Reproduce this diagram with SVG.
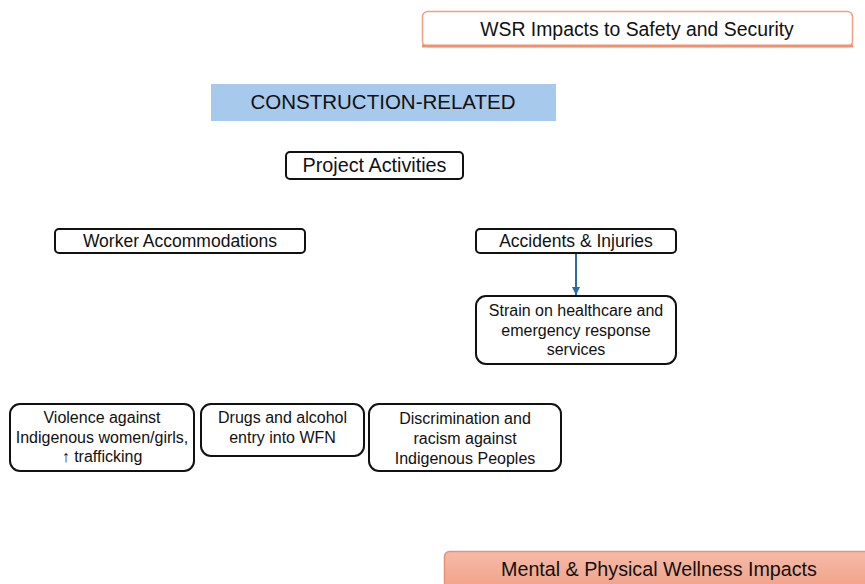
<svg xmlns="http://www.w3.org/2000/svg" width="865" height="584" viewBox="0 0 865 584">
<defs>
<style>
text{font-family:"Liberation Sans",Arial,sans-serif;fill:#111;text-anchor:middle}
.box{fill:#fff;stroke:#111;stroke-width:2}
.t16{font-size:17.5px}
.t15{font-size:16px}
</style>
<linearGradient id="og" x1="0" y1="0" x2="0" y2="1"><stop offset="0" stop-color="#f5bba8"/><stop offset="1" stop-color="#f19f85"/></linearGradient>
<marker id="ah" markerWidth="8" markerHeight="8" refX="8" refY="4" orient="auto" markerUnits="userSpaceOnUse"><path d="M0,0 L8,4 L0,8 Z" fill="#2e6aa5"/></marker>
</defs>
<rect width="865" height="584" fill="#fff"/>
<g id="title">
<rect x="422.5" y="11.5" width="430" height="35" rx="5" fill="#fff" stroke="#f0a083" stroke-width="1.5"/>
<line x1="422" y1="46" x2="853" y2="46" stroke="#f0926f" stroke-width="3"/>
<text x="637" y="36" style="font-size:19.4px">WSR Impacts to Safety and Security</text>
</g>
<g id="construction">
<rect x="211" y="84" width="345" height="37" fill="#a6c9ec"/>
<text x="383" y="109" style="font-size:20.5px">CONSTRUCTION-RELATED</text>
</g>
<g id="project">
<rect class="box" x="286" y="152" width="177" height="27" rx="4"/>
<text x="374.5" y="172" style="font-size:19.8px">Project Activities</text>
</g>
<g id="worker">
<rect class="box" x="55" y="229" width="250" height="24" rx="4"/>
<text class="t16" x="180" y="247">Worker Accommodations</text>
</g>
<g id="accidents">
<rect class="box" x="476" y="229" width="200" height="24" rx="4"/>
<text class="t16" x="576" y="247">Accidents &amp; Injuries</text>
</g>
<g id="strain">
<rect class="box" x="476" y="296" width="200" height="68" rx="10"/>
<text class="t15" x="576" y="316">Strain on healthcare and</text>
<text class="t15" x="576" y="336">emergency response</text>
<text class="t15" x="576" y="355">services</text>
</g>
<g id="violence">
<rect class="box" x="10" y="404" width="184" height="67" rx="10"/>
<text class="t15" x="102" y="423">Violence against</text>
<text class="t15" x="102" y="443">Indigenous women/girls,</text>
<text class="t15" x="102" y="462">↑ trafficking</text>
</g>
<g id="drugs">
<rect class="box" x="201" y="404" width="163" height="52" rx="10"/>
<text class="t15" x="282.5" y="423">Drugs and alcohol</text>
<text class="t15" x="282.5" y="443">entry into WFN</text>
</g>
<g id="discrimination">
<rect class="box" x="369" y="404" width="192" height="67" rx="10"/>
<text class="t15" x="465" y="424">Discrimination and</text>
<text class="t15" x="465" y="444">racism against</text>
<text class="t15" x="465" y="464">Indigenous Peoples</text>
</g>
<g id="mental">
<rect x="444.5" y="551.5" width="430" height="40" rx="5" fill="url(#og)" stroke="#ee9070" stroke-width="1.5"/>
<text x="659" y="576" style="font-size:19.7px">Mental &amp; Physical Wellness Impacts</text>
</g>
<g id="connectors">
<line x1="576" y1="254" x2="576" y2="295" stroke="#2e6aa5" stroke-width="2" marker-end="url(#ah)"/>
</g>
</svg>
